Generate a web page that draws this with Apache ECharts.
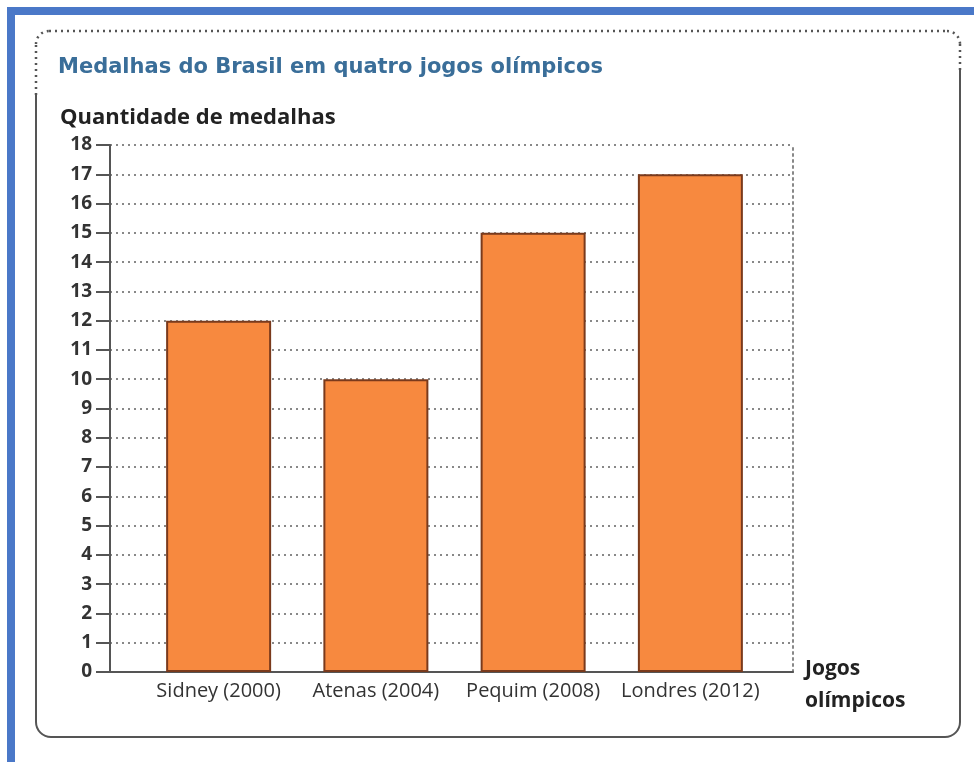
<!DOCTYPE html>
<html>
<head>
<meta charset="utf-8">
<script src="https://cdn.jsdelivr.net/npm/echarts@6/dist/echarts.min.js"></script>
<style>
  html, body { margin: 0; padding: 0; background: #fff; }
  #main { width: 974px; height: 762px; }
</style>
</head>
<body>
<div id="main"></div>
<script>
const categories = ["Sidney (2000)", "Atenas (2004)", "Pequim (2008)", "Londres (2012)"];
const medals = [12, 10, 15, 17];
const yMin = 0;
const yMax = 18;

const chart = echarts.init(document.getElementById("main"));
const font = "'Open Sans', sans-serif";

const dotted = { fill: null, stroke: "#555", lineWidth: 2.5, lineDash: [2, 4] };
const solid = { fill: null, stroke: "#555", lineWidth: 2 };

const option = {
  backgroundColor: "#fff",
  animation: false,
  title: [
    {
      text: "Medalhas do Brasil em quatro jogos olímpicos",
      left: 53,
      top: 52,
      textStyle: { fontFamily: "'DejaVu Sans', sans-serif", fontWeight: "bold", fontSize: 21, color: "#3a6e99" }
    },
    {
      text: "Quantidade de medalhas",
      left: 55,
      top: 102,
      textStyle: { fontFamily: font, fontWeight: "bold", fontSize: 22, color: "#222" }
    }
  ],
  grid: [
    { left: 110, right: 181, top: 145, bottom: 90 },
    { left: 140, right: 205, top: 145, bottom: 90 }
  ],
  xAxis: [
    {
      gridIndex: 0,
      type: "value",
      min: 0,
      max: 1,
      axisLine: { show: true, lineStyle: { color: "#555", width: 2 } },
      axisTick: { show: false },
      axisLabel: { show: false },
      splitLine: { show: false }
    },
    {
      gridIndex: 1,
      type: "category",
      data: categories,
      axisLine: { show: false },
      axisTick: { show: false },
      axisLabel: { interval: 0, fontFamily: font, fontSize: 20, color: "#333", margin: 9 }
    }
  ],
  yAxis: [
    {
      gridIndex: 0,
      type: "value",
      min: yMin,
      max: yMax,
      interval: 1,
      axisLine: { show: true, lineStyle: { color: "#555", width: 2 } },
      axisTick: { show: true, length: 14, lineStyle: { color: "#555", width: 2 } },
      axisLabel: { fontFamily: font, fontWeight: "bold", fontSize: 19, color: "#333", margin: 18 },
      splitLine: { show: true, lineStyle: { type: [2, 4], color: "#888", width: 2 } }
    },
    {
      gridIndex: 0,
      type: "value",
      position: "right",
      min: yMin,
      max: yMax,
      interval: 1,
      axisLine: { show: true, lineStyle: { type: [2, 4], color: "#888", width: 2 } },
      axisTick: { show: false },
      axisLabel: { show: false },
      splitLine: { show: false }
    },
    {
      gridIndex: 1,
      type: "value",
      min: yMin,
      max: yMax,
      show: false
    }
  ],
  series: [
    {
      type: "bar",
      xAxisIndex: 1,
      yAxisIndex: 2,
      barWidth: 105,
      data: medals,
      itemStyle: { color: "#f7893f", borderColor: "#7a3a1c", borderWidth: 2 },
      z: 5
    }
  ],
  graphic: [
    // moldura azul
    { type: "rect", shape: { x: 7, y: 7, width: 967, height: 8 }, style: { fill: "#4a78c8" }, silent: true },
    { type: "rect", shape: { x: 7, y: 7, width: 8, height: 755 }, style: { fill: "#4a78c8" }, silent: true },
    // caixa: topo pontilhado
    { type: "polyline", shape: { points: [[36, 95], [36, 44]] }, style: dotted, silent: true },
    { type: "arc", shape: { cx: 49, cy: 44, r: 13, startAngle: Math.PI, endAngle: Math.PI * 1.5 }, style: dotted, silent: true },
    { type: "polyline", shape: { points: [[49, 31], [947, 31]] }, style: dotted, silent: true },
    { type: "arc", shape: { cx: 947, cy: 44, r: 13, startAngle: Math.PI * 1.5, endAngle: Math.PI * 2 }, style: dotted, silent: true },
    { type: "polyline", shape: { points: [[960, 44], [960, 70]] }, style: dotted, silent: true },
    // caixa: resto solido
    { type: "polyline", shape: { points: [[36, 95], [36, 722]] }, style: solid, silent: true },
    { type: "arc", shape: { cx: 51, cy: 722, r: 15, startAngle: Math.PI / 2, endAngle: Math.PI }, style: solid, silent: true },
    { type: "polyline", shape: { points: [[51, 737], [945, 737]] }, style: solid, silent: true },
    { type: "arc", shape: { cx: 945, cy: 722, r: 15, startAngle: 0, endAngle: Math.PI / 2 }, style: solid, silent: true },
    { type: "polyline", shape: { points: [[960, 70], [960, 722]] }, style: solid, silent: true },
    {
      type: "text",
      left: 805,
      top: 653,
      style: { text: "Jogos\nolímpicos", fontFamily: font, fontWeight: "bold", fontSize: 21, lineHeight: 32, fill: "#222" }
    }
  ]
};

option && chart.setOption(option);
</script>
</body>
</html>
